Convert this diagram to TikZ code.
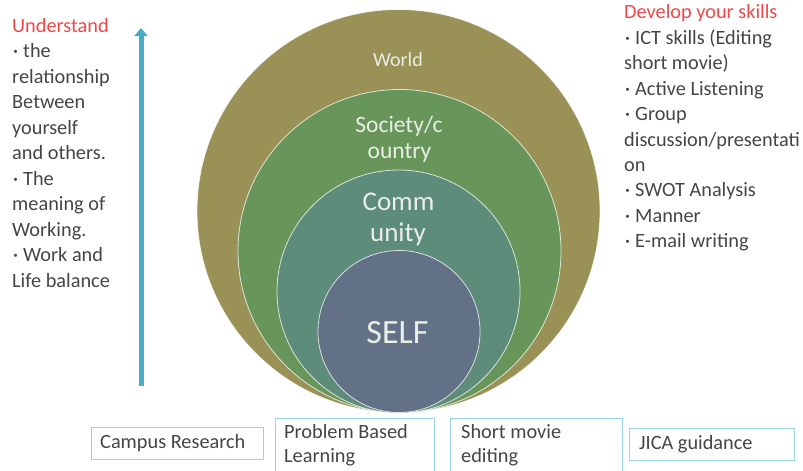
\documentclass[tikz,border=0pt]{standalone}
\usepackage{fontspec}
\setmainfont{Carlito}
\newfontfamily\cjkf{Noto Sans CJK JP}
\usetikzlibrary{arrows.meta}
\definecolor{worldc}{HTML}{9A9157}
\definecolor{socc}{HTML}{68965A}
\definecolor{commc}{HTML}{5E8C7A}
\definecolor{selfc}{HTML}{627186}
\definecolor{txtc}{HTML}{454545}
\definecolor{redc}{HTML}{F04848}
\definecolor{boxc}{HTML}{9AD4E2}
\definecolor{arrc}{HTML}{4BACC6}
\definecolor{lblc}{HTML}{E9EEE6}
\newcommand{\bul}{\rlap{\hspace{-4pt}{\cjkf\fontsize{15}{15}\selectfont ・}}\hspace{11pt}}
\begin{document}
\begin{tikzpicture}[x=1pt,y=-1pt,
  ring/.style={circle, inner sep=0pt, outer sep=0pt, draw=white, draw opacity=0.75, line width=0.8pt},
  lbl/.style={anchor=base, text=lblc, inner sep=0pt},
  txt/.style={anchor=base west, text=txtc, inner sep=0pt, font=\fontsize{20.3}{24}\selectfont},
  boxnode/.style={draw=boxc, line width=1.2pt, anchor=north west, inner sep=0pt, minimum height=32pt}
]
\useasboundingbox (0,0) rectangle (803,471);
\clip (0,0) rectangle (803,471);

% circles
\node[ring, fill=worldc, minimum size=403pt] (world) at (398.5,211) {};
\node[ring, fill=socc, minimum size=323pt] (society) at (399.5,251) {};
\node[ring, fill=commc, minimum size=243pt] (community) at (398.5,291.5) {};
\node[ring, fill=selfc, minimum size=162pt] (self) at (399,331.5) {};

% circle labels
\node[lbl, font=\fontsize{20}{24}\selectfont] (tworld) at (398,66) {World};
\node[lbl, font=\fontsize{23.5}{28}\selectfont] (tsoc1) at (399,132) {Society/c};
\node[lbl, font=\fontsize{23.5}{28}\selectfont] (tsoc2) at (399.5,158) {ountry};
\node[lbl, font=\fontsize{27}{32}\selectfont] (tcom1) at (398.5,210) {Comm};
\node[lbl, font=\fontsize{27}{32}\selectfont] (tcom2) at (398,241) {unity};
\node[lbl, font=\fontsize{34}{40}\selectfont] (tself) at (397.5,343) {SELF};

% arrow
\coordinate (abot) at (141,386);
\coordinate (atop) at (141,28);
\draw[line width=5pt, arrc, -{Triangle[width=13pt,length=8pt]}] (abot) -- (atop);

% left text
\foreach \t [count=\i from 0] in {{\color{redc}Understand},{\bul the},{relationship},{Between},{yourself},{and others.},{\bul The},{meaning of},{Working.},{\bul Work and},{Life balance}}
  \node[txt] (L\i) at (12,{32+25.5*\i}) {\t};

% right text
\foreach \t [count=\i from 0] in {{\color{redc}Develop your skills},{\bul ICT skills (Editing},{short movie)},{\bul Active Listening},{\bul Group},{discussion/presentati},{on},{\bul SWOT Analysis},{\bul Manner},{\bul E-mail writing}}
  \node[txt] (R\i) at (624,{19+25.4*\i}) {\t};

% bottom boxes
\node[boxnode, minimum width=172pt] (b1) at (91,427) {};
\node[boxnode, minimum width=159pt, minimum height=70pt] (b2) at (275,418) {};
\node[boxnode, minimum width=172pt, minimum height=70pt] (b3) at (450,418) {};
\node[boxnode, minimum width=165pt] (b4) at (629,427.5) {};

\node[txt] (b1t) at (100,448) {Campus Research};
\node[txt] (b2t1) at (284,438) {Problem Based};
\node[txt] (b2t2) at (284,462) {Learning};
\node[txt] (b3t1) at (461,438) {Short movie};
\node[txt] (b3t2) at (461,462) {editing};
\node[txt] (b4t) at (639,449) {JICA guidance};
\end{tikzpicture}
\end{document}
